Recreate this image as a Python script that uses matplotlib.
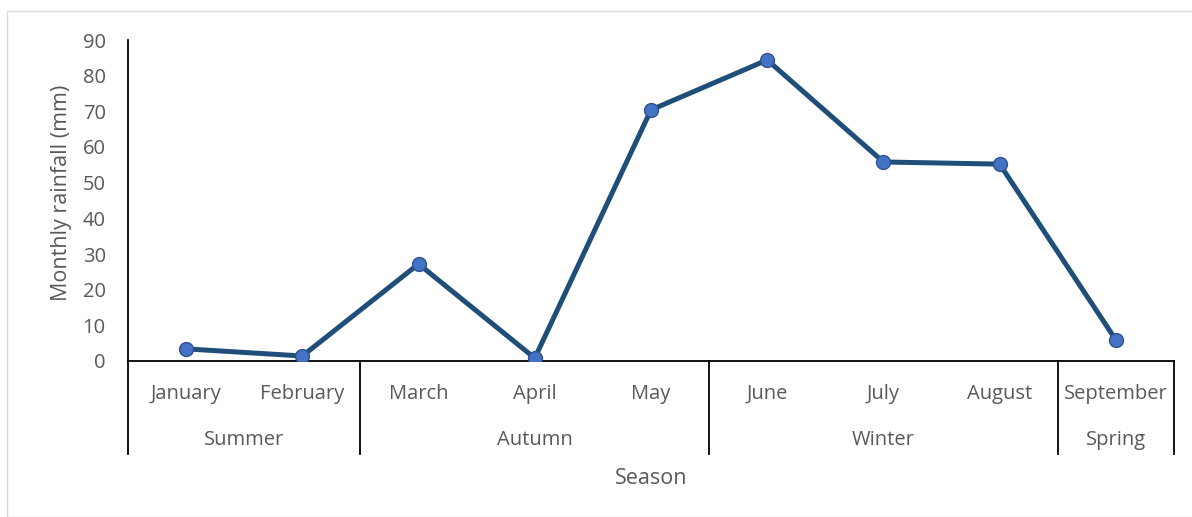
import matplotlib.pyplot as plt
from matplotlib.patches import Rectangle

months = ['January', 'February', 'March', 'April', 'May',
          'June', 'July', 'August', 'September']
seasons = ['Summer', 'Autumn', 'Winter', 'Spring']
season_sizes = [2, 3, 3, 1]
rainfall = [3.4, 1.4, 27.2, 0.8, 70.4, 84.4, 55.8, 55.2, 5.9]

plt.rcParams['font.family'] = ['Open Sans', 'DejaVu Sans']
grey = '#595959'

W, H = 1192, 517
fig = plt.figure(figsize=(W / 100, H / 100), dpi=100)
# light frame round the chart area
fig.patches.append(Rectangle((7 / W, 0), 1, 1 - 11 / H, transform=fig.transFigure,
                             fill=False, edgecolor='#d9d9d9', linewidth=1))

ax = fig.add_axes([128 / W, (H - 361) / H, (1174 - 128) / W, (361 - 40) / H])
x = list(range(len(months)))
ax.plot(x, rainfall, color='#1f4e79', linewidth=3.6, marker='o', markersize=10,
        markerfacecolor='#4472c4', markeredgecolor='#2f528f', markeredgewidth=1,
        solid_joinstyle='miter', zorder=3)

ax.set_xlim(-0.5, len(months) - 0.5)
ax.set_ylim(0, 90)
ax.set_yticks(range(0, 91, 10))
ax.tick_params(axis='y', length=0, pad=16, labelsize=14.5, labelcolor=grey)
ax.set_xticks([])
for s in ['top', 'right']:
    ax.spines[s].set_visible(False)
for s in ['left', 'bottom']:
    ax.spines[s].set_color('black')
    ax.spines[s].set_linewidth(1.3)

axh = 361 - 40
trans = ax.get_xaxis_transform()
for i, m in enumerate(months):
    ax.text(i, -(394 - 361) / axh, m, transform=trans, ha='center', va='center',
            fontsize=14.5, color=grey)

start = -0.5
bounds = [start]
for name, n in zip(seasons, season_sizes):
    end = start + n
    ax.text((start + end) / 2, -(440 - 361) / axh, name, transform=trans,
            ha='center', va='center', fontsize=14.5, color=grey)
    bounds.append(end)
    start = end
for b in bounds:
    ax.plot([b, b], [0, -(454 - 361) / axh], transform=trans, color='black',
            linewidth=1.3, clip_on=False)

ax.text(0.5, -(478 - 361) / axh, 'Season', transform=ax.transAxes,
        ha='center', va='center', fontsize=15.5, color=grey)
fig.text(62 / W, 1 - 193 / H, 'Monthly rainfall (mm)', rotation=90,
         ha='center', va='center', fontsize=15.5, color=grey)

fig.savefig('out.png', dpi=100)
